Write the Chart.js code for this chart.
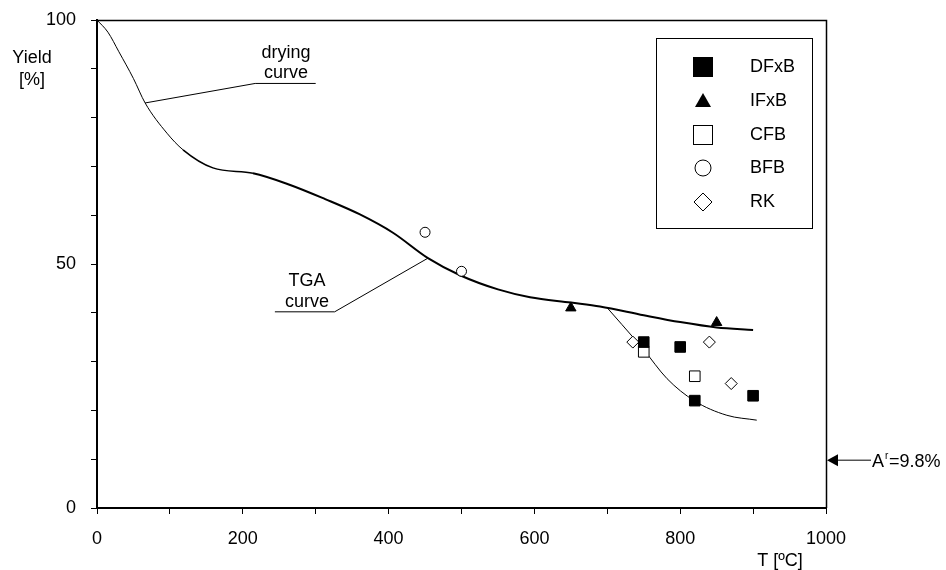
<!DOCTYPE html>
<html>
<head>
<meta charset="utf-8">
<script src="https://cdn.jsdelivr.net/npm/chart.js@4"></script>
<style>
body { margin: 0; background: #fff; }
#wrap { width: 946px; height: 570px; }
</style>
</head>
<body>
<div id="wrap"><canvas id="myChart" width="946" height="570"></canvas></div>
<script>
// data
let dfxbT = [750, 800, 820, 900];
let dfxbY = [34, 33, 22, 23];
let ifxbT = [650, 850];
let ifxbY = [41, 38];
let cfbT = [750, 820];
let cfbY = [32, 27];
let bfbT = [450, 500];
let bfbY = [56.5, 48.5];
let rkT = [735, 840, 870];
let rkY = [34, 34, 25.5];

// TGA curve (thin "drying" part at the start, thick after)
let tgaT = [0, 15, 30, 50, 66, 96, 118, 159, 214, 265, 313, 360, 406, 454, 498, 550, 594, 650, 690, 750, 800, 850, 900];
let tgaY = [100, 97.5, 93.5, 88, 83, 76.8, 73.4, 69.7, 68.6, 66.2, 63.3, 60.2, 56.4, 51.2, 47.7, 44.8, 43.2, 42.1, 41.3, 39.5, 38.1, 37, 36.5];
let dryingEnd = 118;
let lowT = [700, 720, 749, 782, 819, 864, 905];
let lowY = [41, 37.6, 32.6, 26.5, 22, 19, 18];

let xTicks = [0, 200, 400, 600, 800, 1000];
let yTicks = [0, 50, 100];
let ashValue = 9.8;

function pts(xs, ys) {
    let out = [];
    for (var i = 0; i < xs.length; i++) {
        out[i] = {x: xs[i], y: ys[i]};
    }
    return out;
}

let font = "Liberation Sans, Arial, sans-serif";

// legend, annotations and frame drawn on the canvas
let extras = {
    id: 'extras',
    afterDraw: function (chart) {
        let c = chart.ctx;
        let xs = chart.scales.x, ys = chart.scales.y;
        let a = chart.chartArea;
        c.save();
        c.strokeStyle = '#000';
        c.fillStyle = '#000';
        // top and right frame
        c.lineWidth = 1.5;
        c.beginPath();
        c.moveTo(a.left, a.top + 0.5);
        c.lineTo(a.right + 0.5, a.top + 0.5);
        c.lineTo(a.right + 0.5, a.bottom);
        c.stroke();

        // leader lines
        c.lineWidth = 1;
        c.beginPath();
        c.moveTo(xs.getPixelForValue(66), ys.getPixelForValue(83));
        c.lineTo(xs.getPixelForValue(217), ys.getPixelForValue(87));
        c.lineTo(xs.getPixelForValue(300), ys.getPixelForValue(87));
        c.stroke();
        c.beginPath();
        c.moveTo(xs.getPixelForValue(454), ys.getPixelForValue(51.2));
        c.lineTo(xs.getPixelForValue(326), ys.getPixelForValue(40.2));
        c.lineTo(xs.getPixelForValue(244), ys.getPixelForValue(40.2));
        c.stroke();

        c.font = '18px ' + font;
        c.textAlign = 'center';
        c.textBaseline = 'middle';
        c.fillText('drying', 286, 53);
        c.fillText('curve', 286, 73);
        c.fillText('TGA', 307, 281);
        c.fillText('curve', 307, 302);

        // axis titles
        c.fillText('Yield', 32, 58);
        c.fillText('[%]', 32, 80);
        c.fillText('T [ºC]', 780, 561);

        // ash arrow
        let ay = ys.getPixelForValue(ashValue);
        c.beginPath();
        c.moveTo(a.right + 1, ay);
        c.lineTo(a.right + 12, ay - 6);
        c.lineTo(a.right + 12, ay + 6);
        c.closePath();
        c.fill();
        c.beginPath();
        c.moveTo(a.right + 10, ay);
        c.lineTo(a.right + 45, ay);
        c.stroke();
        c.textAlign = 'left';
        c.fillText('A', a.right + 46, ay + 2);
        c.font = '10px ' + font;
        c.fillText('r', a.right + 59, ay - 4);
        c.font = '18px ' + font;
        c.fillText('=9.8%', a.right + 63, ay + 2);

        // legend box
        c.lineWidth = 1;
        c.strokeRect(656.5, 38.5, 156, 190);
        let names = ['DFxB', 'IFxB', 'CFB', 'BFB', 'RK'];
        let rowY = [67, 101, 135, 168, 202];
        let mx = 703;
        for (var i = 0; i < names.length; i++) {
            let y = rowY[i];
            c.fillText(names[i], 750, y);
            c.beginPath();
            if (i == 0) {
                c.fillRect(mx - 10, y - 10, 20, 20);
            } else if (i == 1) {
                c.moveTo(mx, y - 8);
                c.lineTo(mx + 8, y + 6);
                c.lineTo(mx - 8, y + 6);
                c.closePath();
                c.fill();
            } else if (i == 2) {
                c.strokeRect(mx - 9.5, y - 9.5, 19, 19);
            } else if (i == 3) {
                c.arc(mx, y, 8, 0, Math.PI * 2);
                c.stroke();
            } else {
                c.moveTo(mx, y - 9);
                c.lineTo(mx + 9, y);
                c.lineTo(mx, y + 9);
                c.lineTo(mx - 9, y);
                c.closePath();
                c.stroke();
            }
        }
        c.restore();
    }
};

let ctx = document.getElementById('myChart').getContext('2d');
let chart = new Chart(ctx, {
    type: 'scatter',
    data: {
        datasets: [
            { label: 'DFxB', data: pts(dfxbT, dfxbY), pointStyle: 'rect', pointRadius: 7.5, backgroundColor: '#000', borderColor: '#000', borderWidth: 1, order: 0 },
            { label: 'IFxB', data: pts(ifxbT, ifxbY), pointStyle: 'triangle', pointRadius: 6, backgroundColor: '#000', borderColor: '#000', borderWidth: 1, order: 0 },
            { label: 'CFB', data: pts(cfbT, cfbY), pointStyle: 'rect', pointRadius: 7.5, backgroundColor: '#fff', borderColor: '#000', borderWidth: 1, order: 0 },
            { label: 'BFB', data: pts(bfbT, bfbY), pointStyle: 'circle', pointRadius: 5, backgroundColor: '#fff', borderColor: '#000', borderWidth: 1, order: 0 },
            { label: 'RK', data: pts(rkT, rkY), pointStyle: 'rectRot', pointRadius: 6, backgroundColor: '#fff', borderColor: '#000', borderWidth: 1, order: 0 },
            {
                label: 'TGA curve', data: pts(tgaT, tgaY), showLine: true, pointRadius: 0, borderColor: '#000', borderWidth: 2,
                cubicInterpolationMode: 'monotone', order: 1,
                segment: { borderWidth: function (s) { return s.p0.parsed.x < dryingEnd ? 1 : (s.p0.parsed.x < 160 ? 1.5 : 2); } }
            },
            { label: 'low curve', data: pts(lowT, lowY), showLine: true, pointRadius: 0, borderColor: '#000', borderWidth: 1, cubicInterpolationMode: 'monotone', order: 1 }
        ]
    },
    options: {
        responsive: false,
        devicePixelRatio: 1,
        animation: false,
        layout: { padding: { left: 0, top: 20, right: 120, bottom: 0 } },
        plugins: {
            legend: { display: false },
            tooltip: { enabled: false }
        },
        scales: {
            x: {
                type: 'linear',
                min: 0,
                max: 1000,
                afterFit: function (s) { s.height = 62; s.paddingLeft = 0; s.paddingRight = 0; },
                ticks: {
                    stepSize: 100,
                    autoSkip: false,
                    maxRotation: 0,
                    padding: 14,
                    color: '#000',
                    font: { family: font, size: 18 },
                    callback: function (v) { return xTicks.indexOf(v) >= 0 ? String(v) : ''; }
                },
                grid: { drawOnChartArea: false, tickLength: 6, color: '#000', tickColor: '#000' },
                border: { display: true, color: '#000', width: 2 }
            },
            y: {
                type: 'linear',
                min: 0,
                max: 100,
                afterFit: function (s) { s.width = 97; s.paddingTop = 0; s.paddingBottom = 0; },
                ticks: {
                    stepSize: 10,
                    autoSkip: false,
                    padding: 15,
                    color: '#000',
                    font: { family: font, size: 18 },
                    callback: function (v) { return yTicks.indexOf(v) >= 0 ? String(v) : ''; }
                },
                grid: { drawOnChartArea: false, tickLength: 6, color: '#000', tickColor: '#000' },
                border: { display: true, color: '#000', width: 2 }
            }
        }
    },
    plugins: [extras]
});
</script>
</body>
</html>
